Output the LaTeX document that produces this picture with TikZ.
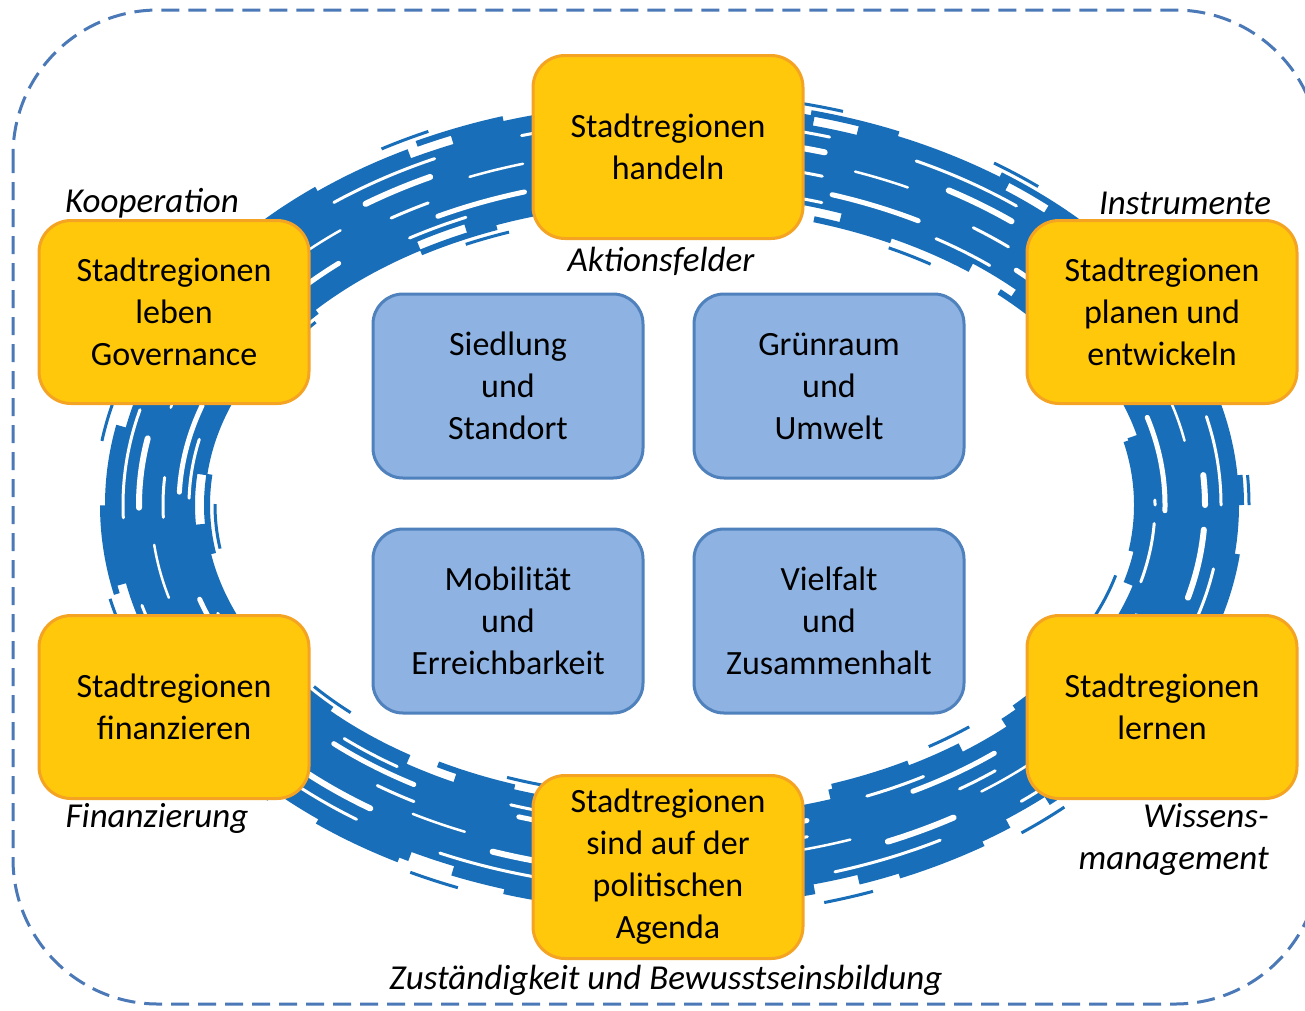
\documentclass[tikz,border=0pt]{standalone}
\usepackage{fontspec}
\setmainfont{Carlito}
\definecolor{ringblue}{RGB}{24,110,184}
\definecolor{yfill}{RGB}{255,200,10}
\definecolor{ydraw}{RGB}{244,163,35}
\definecolor{bfill}{RGB}{142,178,226}
\definecolor{bdraw}{RGB}{79,129,189}
\definecolor{frame}{RGB}{75,120,182}
\begin{document}
\begin{tikzpicture}[x=1pt,y=-1pt,
  ybox/.style={draw=ydraw, fill=yfill, line width=3pt, rounded corners=32pt,
    minimum width=270pt, minimum height=183pt, align=center, inner sep=0pt,
    font=\fontsize{34}{42}\selectfont},
  bbox/.style={draw=bdraw, fill=bfill, line width=3pt, rounded corners=30pt,
    minimum width=270pt, minimum height=184pt, align=center, inner sep=0pt,
    font=\fontsize{34}{42}\selectfont},
  lab/.style={font=\itshape\fontsize{35}{42}\selectfont, inner sep=0pt},
  dashframe/.style={draw=frame, line width=3pt, dash pattern=on 18pt off 9pt},
  brush/.style={draw=ringblue},
  streak/.style={draw=white, line cap=round}
]
\useasboundingbox (0,0) rectangle (1305,1010);
\fill[white] (0,0) rectangle (1305,1010);
% dashed outer frame
\draw[dashframe, rounded corners=145pt] (13,10) rectangle (1320,1004);
% brush ring
\coordinate (rc) at (672,505);
\draw[brush, line width=80pt] (rc) ellipse [x radius=517pt, y radius=352pt];
\foreach \o/\w/\on/\off/\ph in {44/12/160/45/0, 52/6/90/110/60, 60/3/50/160/20,
  -44/12/140/50/70, -52/6/80/120/15, -60/3/45/170/100}{
  \draw[brush, line width=\w pt, dash pattern=on \on pt off \off pt, dash phase=\ph pt]
    (rc) ellipse [x radius={517pt+\o pt}, y radius={352pt+\o pt}];
}
\foreach \o/\w/\on/\off/\ph in {-24/5/90/110/0, 16/6/70/130/40, 32/3/110/90/20,
  -8/3/40/160/75, 4/2.5/55/140/130, -34/3/60/120/55}{
  \draw[streak, line width=\w pt, dash pattern=on \on pt off \off pt, dash phase=\ph pt]
    (rc) ellipse [x radius={517pt+\o pt}, y radius={352pt+\o pt}];
}
% yellow boxes
\node[ybox] (handeln) at (668,147) {Stadtregionen\\handeln};
\node[ybox] (leben) at (174,312) {Stadtregionen\\leben\\Governance};
\node[ybox] (planen) at (1162,312) {Stadtregionen\\planen und\\entwickeln};
\node[ybox] (finanz) at (174,707) {Stadtregionen\\finanzieren};
\node[ybox] (lernen) at (1162,707) {Stadtregionen\\lernen};
\node[ybox] (agenda) at (668,867) {Stadtregionen\\sind auf der\\politischen\\Agenda};
% blue boxes
\node[bbox] (siedlung) at (508,386) {Siedlung\\und\\Standort};
\node[bbox] (gruen) at (829,386) {Grünraum\\und\\Umwelt};
\node[bbox] (mobil) at (508,621) {Mobilität\\und\\Erreichbarkeit};
\node[bbox] (vielfalt) at (829,621) {Vielfalt\\und\\Zusammenhalt};
% italic labels
\node[lab] (koop) at (152,203) {Kooperation};
\node[lab] (aktion) at (661,261) {Aktionsfelder};
\node[lab] (instr) at (1185,203) {Instrumente};
\node[lab] (finzg) at (157,818) {Finanzierung};
\node[lab, align=right, anchor=east] (wissen) at (1269,839) {Wissens-\\management};
\node[lab] (zust) at (666,980) {Zuständigkeit und Bewusstseinsbildung};
\end{tikzpicture}
\end{document}
